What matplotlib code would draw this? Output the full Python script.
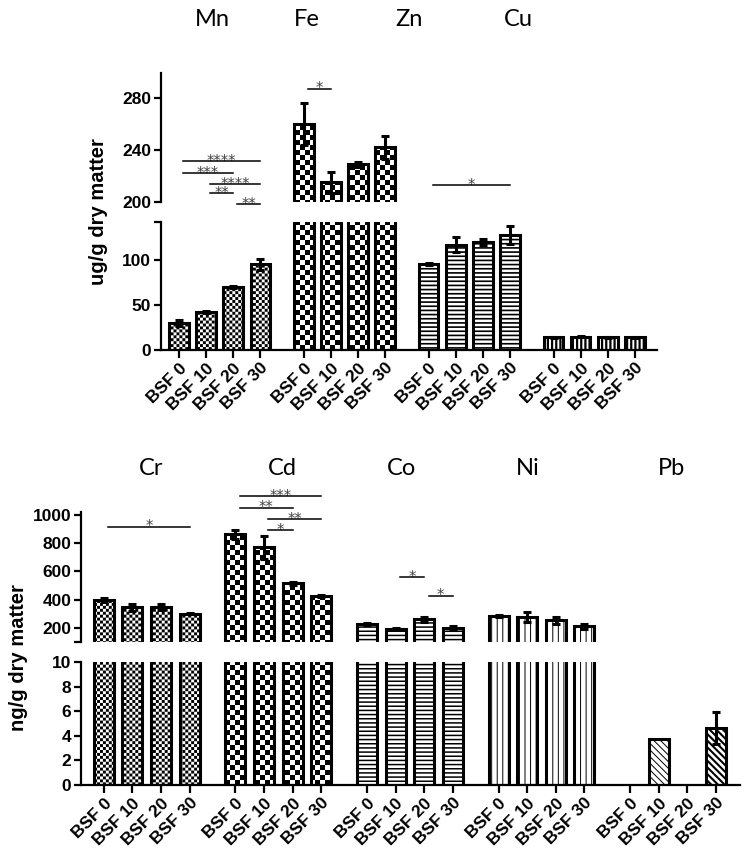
import warnings
import numpy as np
import matplotlib
matplotlib.use('Agg')
import matplotlib.pyplot as plt
from matplotlib import hatch as mhatch
from matplotlib.path import Path

warnings.filterwarnings('ignore')

# ---- data ----
diets = ['BSF 0', 'BSF 10', 'BSF 20', 'BSF 30']

top_metals = ['Mn', 'Fe', 'Zn', 'Cu']
mn = [30, 42, 70, 95]
mn_err = [3, 1, 1, 6]
fe = [260, 215, 229, 242]
fe_err = [16, 8, 2, 9]
zn = [95, 117, 120, 128]
zn_err = [1, 8, 3, 10]
cu = [14, 14.5, 14, 14]
cu_err = [0.5, 0.5, 0.5, 0.5]

bot_metals = ['Cr', 'Cd', 'Co', 'Ni', 'Pb']
cr = [395, 345, 348, 300]
cr_err = [15, 25, 22, 5]
cd = [860, 770, 515, 425]
cd_err = [30, 80, 10, 10]
co = [225, 195, 260, 200]
co_err = [8, 3, 18, 12]
ni = [285, 278, 255, 210]
ni_err = [5, 35, 25, 15]
pb = [0, 3.7, 0, 4.6]
pb_err = [0, 0, 0, 1.3]

# significance bars: (metal index, diet a, diet b, y, label)
top_sig = [(0, 0, 3, 231.5, '****'), (0, 0, 2, 222, '***'), (0, 1, 3, 214, '****'),
           (0, 1, 2, 207, '**'), (0, 2, 3, 198.5, '**'),
           (1, 0, 1, 287, '*'), (2, 0, 3, 213, '*')]
bot_sig = [(0, 0, 3, 916, '*'),
           (1, 0, 3, 1133, '***'), (1, 0, 2, 1050, '**'), (1, 1, 3, 970, '**'), (1, 1, 2, 893, '*'),
           (2, 1, 2, 558, '*'), (2, 2, 3, 428, '*')]


# checkerboard hatch, 'c' repeated -> 2 cells per 'c' per inch
class CheckerHatch(mhatch.HatchPatternBase):
    def __init__(self, hatch, density):
        self.n = 2 * hatch.count('c')
        self.num_vertices = (self.n * self.n // 2) * 5

    def set_vertices_and_codes(self, vertices, codes):
        s = 1.0 / self.n
        k = 0
        for i in range(self.n):
            for j in range(self.n):
                if (i + j) % 2:
                    continue
                x0, y0 = i * s, j * s
                vertices[k:k + 5] = [[x0, y0], [x0 + s, y0], [x0 + s, y0 + s], [x0, y0 + s], [x0, y0]]
                codes[k:k + 5] = [Path.MOVETO, Path.LINETO, Path.LINETO, Path.LINETO, Path.CLOSEPOLY]
                k += 5


mhatch._hatch_types.append(CheckerHatch)

W, H = 745, 855
fig = plt.figure(figsize=(W / 100, H / 100), dpi=100)


def px_axes(x0, x1, y0, y1):
    return fig.add_axes([x0 / W, 1 - y1 / H, (x1 - x0) / W, (y1 - y0) / H])


G = 4.6  # group step in bar slots


def style(ax, bottom):
    for s in ['top', 'right']:
        ax.spines[s].set_visible(False)
    ax.spines['left'].set_linewidth(1.6)
    ax.spines['bottom'].set_linewidth(1.6)
    ax.tick_params(axis='y', direction='out', length=5, width=1.6, labelsize=12.5, pad=2)
    ax.tick_params(axis='x', direction='out', length=5.5, width=1.6, labelsize=12.5, pad=2)
    for lab in ax.get_yticklabels():
        lab.set_fontweight('bold')
        lab.set_family('Liberation Sans')
    if not bottom:
        ax.spines['bottom'].set_visible(False)
        ax.set_xticks([])


def draw_group(axes, g, vals, errs, hatches, hlws, width):
    pos = g * G + np.arange(4)
    for ax in axes:
        for x, v, e, h, hl in zip(pos, vals, errs, hatches, hlws):
            with plt.rc_context({'hatch.linewidth': hl}):
                b = ax.bar(x, v, width, color='white', edgecolor='black',
                           linewidth=2.2 if v > 0 else 0, hatch=h, zorder=2)
            for p in b.patches:
                if hasattr(p, 'set_hatch_linewidth'):
                    p.set_hatch_linewidth(hl)
            if e > 0:
                ax.errorbar(x, v, yerr=e, fmt='none', ecolor='black', elinewidth=2.2,
                            capsize=2.8, capthick=2.2, zorder=3)
    return pos


def sig(ax, x1, x2, y, label):
    ax.plot([x1 + 0.15, x2], [y, y], color='black', lw=1.1, clip_on=False, zorder=4)
    ax.annotate(label, ((x1 + 0.15 + x2) / 2, y), xytext=(0, -3.5), textcoords='offset points',
                ha='center', va='baseline', fontsize=10.5, color='#444444',
                family='DejaVu Sans', annotation_clip=False)


# ---------------- top panel ----------------
tu = px_axes(161, 657, 73, 202)
tl = px_axes(161, 657, 222, 350)
axes = [tu, tl]
top_data = [(mn, mn_err, ['c' * 17] * 4, [0.0] * 4),
            (fe, fe_err, ['c' * 10] * 4, [0.0] * 4),
            (zn, zn_err, ['----'] * 4, [1.2] * 4),
            (cu, cu_err, ['||||'] * 4, [1.6] * 4)]
ticks = []
for g, (v, e, h, hl) in enumerate(top_data):
    ticks.extend(draw_group(axes, g, v, e, h, hl, 0.72))

xl = (-0.66, 3 * G + 3 + 0.81)
tu.set_xlim(xl)
tl.set_xlim(xl)
tu.set_ylim(200, 299)
tl.set_ylim(0, 142)
tu.set_yticks([200, 240, 280])
tl.set_yticks([0, 50, 100, 142])
tl.set_yticklabels(['0', '50', '100', ''])
tl.set_xticks(ticks)
tl.set_xticklabels(diets * 4, rotation=45, ha='right', rotation_mode='anchor',
                   fontweight='bold', family='Liberation Sans')
style(tu, False)
style(tl, True)

for m, a, b, y, lab in top_sig:
    sig(tu, m * G + a, m * G + b, y, lab)

fig.text(98 / W, 1 - 212 / H, 'ug/g dry matter', rotation=90, ha='center', va='center',
         fontsize=14.5, fontweight='bold', family='Liberation Sans')

for name, x in zip(top_metals, [212, 307, 409, 518]):
    fig.text(x / W, 1 - 26 / H, name, ha='center', va='baseline', fontsize=17, family='Lato')

# ---------------- bottom panel ----------------
bu = px_axes(81, 740, 512, 642)
bl = px_axes(81, 740, 662, 785)
axes = [bu, bl]
bot_data = [(cr, cr_err, ['c' * 17] * 4, [0.0] * 4),
            (cd, cd_err, ['c' * 10] * 4, [0.0] * 4),
            (co, co_err, ['----'] * 4, [1.1] * 4),
            (ni, ni_err, ['|||'] * 4, [0.7] * 4),
            (pb, pb_err, ['\\\\\\\\\\'] * 4, [0.7, 0.7, 0.7, 1.5])]
ticks = []
for g, (v, e, h, hl) in enumerate(bot_data):
    ticks.extend(draw_group(axes, g, v, e, h, hl, 0.7))

xl = (-0.80, 4 * G + 3 + 0.84)
bu.set_xlim(xl)
bl.set_xlim(xl)
bu.set_ylim(100, 1019)
bl.set_ylim(0, 10)
bu.set_yticks([100, 200, 400, 600, 800, 1000])
bu.set_yticklabels(['', '200', '400', '600', '800', '1000'])
bl.set_yticks([0, 2, 4, 6, 8, 10])
bl.set_xticks(ticks)
bl.set_xticklabels(diets * 5, rotation=45, ha='right', rotation_mode='anchor',
                   fontweight='bold', family='Liberation Sans')
style(bu, False)
style(bl, True)

for m, a, b, y, lab in bot_sig:
    sig(bu, m * G + a, m * G + b, y, lab)

fig.text(19 / W, 1 - 658 / H, 'ng/g dry matter', rotation=90, ha='center', va='center',
         fontsize=14.5, fontweight='bold', family='Liberation Sans')

for name, x in zip(bot_metals, [151, 282, 401, 528, 672]):
    fig.text(x / W, 1 - 475 / H, name, ha='center', va='baseline', fontsize=17, family='Lato')

fig.savefig('out.png', dpi=100)
